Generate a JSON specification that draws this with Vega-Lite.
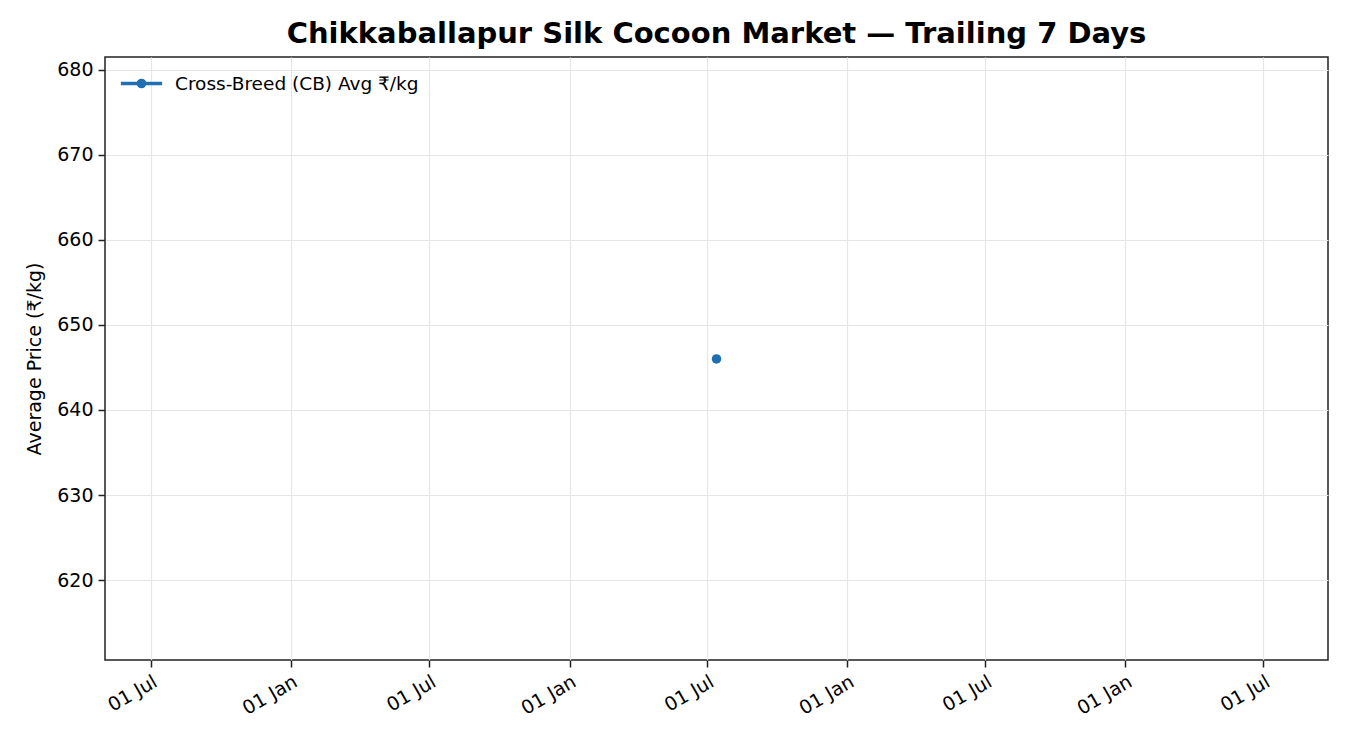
{
  "$schema": "https://vega.github.io/schema/vega-lite/v6.json",
  "width": 1350,
  "height": 750,
  "autosize": {"type": "fit", "contains": "padding"},
  "padding": {"left": 25, "right": 22, "top": 20, "bottom": 31},
  "background": "white",
  "title": {
    "text": "Chikkaballapur Silk Cocoon Market — Trailing 7 Days",
    "font": "DejaVu Sans",
    "fontSize": 29,
    "fontWeight": "bold",
    "color": "black",
    "anchor": "middle",
    "offset": 8
  },
  "data": {
    "values": [
      {"date": "2025-07-13", "price": 646, "series": "Cross-Breed (CB) Avg ₹/kg"}
    ]
  },
  "encoding": {
    "x": {
      "field": "date",
      "type": "temporal",
      "scale": {
        "domain": [
          {"year": 2023, "month": 5, "date": 2},
          {"year": 2027, "month": 9, "date": 24}
        ]
      },
      "axis": {
        "title": null,
        "format": "%d %b",
        "tickCount": {"interval": "month", "step": 6},
        "labelAngle": -30,
        "labelAlign": "right",
        "labelBaseline": "top",
        "labelPadding": 5,
        "labelFontSize": 19,
        "labelFont": "DejaVu Sans",
        "labelColor": "black",
        "labelOverlap": false,
        "labelFlush": false,
        "tickSize": 7,
        "tickWidth": 1.5,
        "tickColor": "#222",
        "domain": false,
        "grid": true,
        "gridColor": "#e6e6e6",
        "gridWidth": 1.2
      }
    },
    "y": {
      "field": "price",
      "type": "quantitative",
      "scale": {"domain": [610.6, 681.5], "nice": false, "zero": false},
      "axis": {
        "title": "Average Price (₹/kg)",
        "titleFont": "DejaVu Sans",
        "titleFontSize": 19,
        "titleFontWeight": "normal",
        "titleColor": "black",
        "titlePadding": 12,
        "values": [620, 630, 640, 650, 660, 670, 680],
        "labelFontSize": 19,
        "labelFont": "DejaVu Sans",
        "labelColor": "black",
        "labelPadding": 5,
        "tickSize": 7,
        "tickWidth": 1.5,
        "tickColor": "#222",
        "domain": false,
        "grid": true,
        "gridColor": "#e6e6e6",
        "gridWidth": 1.2
      }
    },
    "color": {
      "field": "series",
      "type": "nominal",
      "scale": {"range": ["#1f6fb2"]},
      "legend": {
        "title": null,
        "orient": "top-left",
        "offset": 14,
        "symbolType": "M-2,0L2,0M0.3,0A0.3,0.3 0 1,1 -0.3,0A0.3,0.3 0 1,1 0.3,0",
        "symbolStrokeWidth": 3.5,
        "symbolSize": 425,
        "symbolOffset": 10,
        "labelFont": "DejaVu Sans",
        "labelFontSize": 18.5,
        "labelColor": "black",
        "labelLimit": 0,
        "labelOffset": 21
      }
    }
  },
  "layer": [
    {
      "mark": {"type": "line", "strokeWidth": 3}
    },
    {
      "mark": {"type": "point", "filled": true, "size": 90, "opacity": 1}
    }
  ],
  "config": {
    "view": {"stroke": "#222", "strokeWidth": 1.5}
  }
}
